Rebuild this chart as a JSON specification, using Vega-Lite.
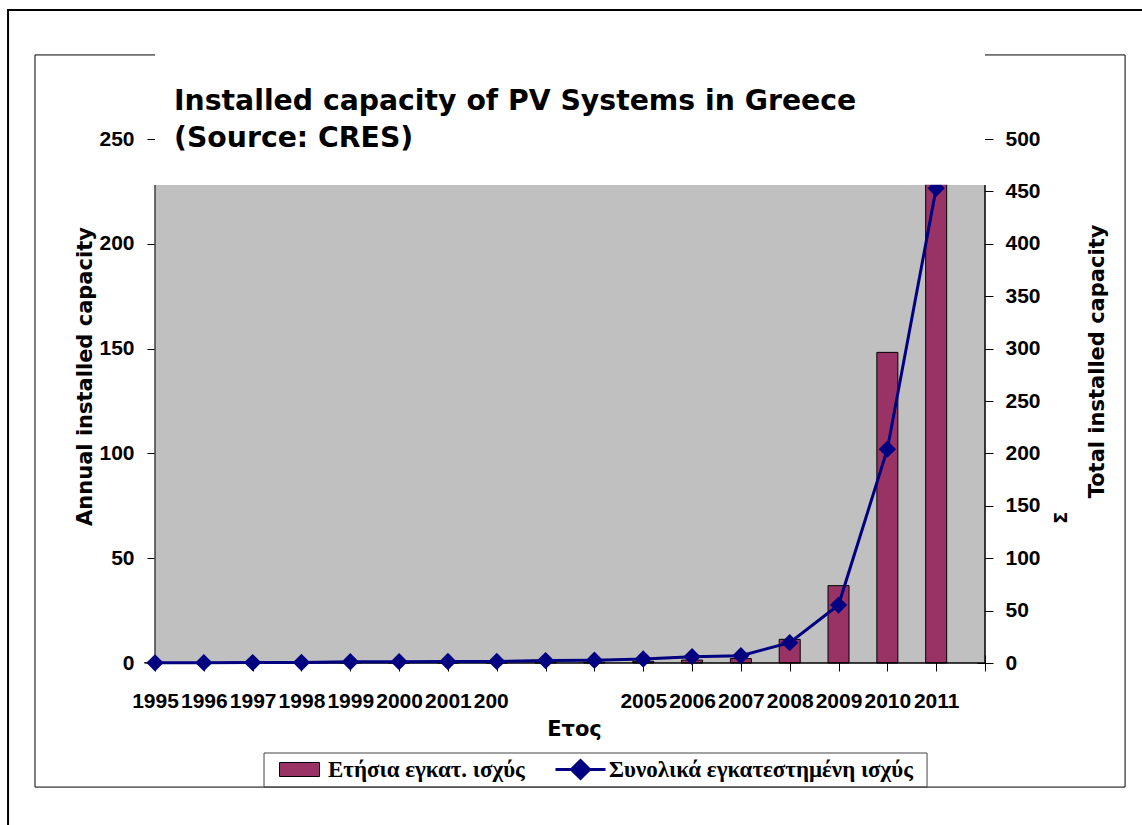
{
  "$schema": "https://vega.github.io/schema/vega-lite/v6.json",
  "width": 830,
  "height": 524,
  "autosize": {"type": "none"},
  "padding": {"left": 155, "top": 139, "right": 157, "bottom": 162},
  "background": "white",
  "config": {
    "view": {"stroke": null},
    "scale": {"continuousPadding": 0},
    "axis": {
      "labelFont": "Liberation Sans", "labelFontWeight": "bold", "labelFontSize": 21, "labelColor": "#000",
      "titleFont": "DejaVu Sans", "titleFontWeight": "bold", "titleFontSize": 21, "titleColor": "#000",
      "domain": false, "tickColor": "#000", "tickSize": 16, "offset": -8, "grid": false, "zindex": 1
    },
    "legend": {
      "orient": "none", "direction": "horizontal", "title": null, "padding": 0,
      "symbolSize": 400, "labelOffset": 17,
      "labelFont": "Liberation Serif", "labelFontWeight": "bold", "labelFontSize": 23, "labelColor": "#000",
      "labelLimit": 600
    }
  },
  "datasets": {
    "pv": [
      {"year": 1995, "annual": 0.1, "total": 0.2},
      {"year": 1996, "annual": 0.1, "total": 0.3},
      {"year": 1997, "annual": 0.1, "total": 0.4},
      {"year": 1998, "annual": 0.1, "total": 0.5},
      {"year": 1999, "annual": 0.2, "total": 1.2},
      {"year": 2000, "annual": 0.1, "total": 1.3},
      {"year": 2001, "annual": 0.1, "total": 1.4},
      {"year": 2002, "annual": 0.1, "total": 1.5},
      {"year": 2003, "annual": 0.6, "total": 2.3},
      {"year": 2004, "annual": 0.4, "total": 2.6},
      {"year": 2005, "annual": 0.8, "total": 3.8},
      {"year": 2006, "annual": 1.4, "total": 6.0},
      {"year": 2007, "annual": 2.1, "total": 7.0},
      {"year": 2008, "annual": 11.3, "total": 19.4},
      {"year": 2009, "annual": 36.9, "total": 55.3},
      {"year": 2010, "annual": 148.2, "total": 204},
      {"year": 2011, "annual": 250, "total": 453}
    ],
    "one": [{}]
  },
  "layer": [
    {
      "layer": [
        {
          "data": {"name": "one"},
          "mark": {"type": "rect", "fill": "#C0C0C0"},
          "encoding": {
            "x": {"datum": 1995, "type": "quantitative", "scale": {"domain": [1995, 2012], "nice": false, "zero": false, "padding": 0}},
            "x2": {"datum": 2012},
            "y": {"datum": 0, "type": "quantitative", "scale": {"domain": [0, 250], "nice": false}},
            "y2": {"datum": 228}
          }
        },
        {
          "data": {"name": "pv"},
          "mark": {"type": "bar", "size": 21, "stroke": "#000", "strokeWidth": 1},
          "encoding": {
            "x": {
              "field": "year", "type": "quantitative",
              "scale": {"domain": [1995, 2012], "nice": false, "zero": false, "padding": 0},
              "axis": {
                "values": [1995, 1996, 1997, 1998, 1999, 2000, 2001, 2002, 2003, 2004, 2005, 2006, 2007, 2008, 2009, 2010, 2011, 2012],
                "labelExpr": "datum.value == 2003 || datum.value == 2004 || datum.value == 2012 ? '' : (datum.value == 2002 ? '200' : toString(datum.value))",
                "labelOffset": {"condition": {"test": "datum.value == 2002", "value": -6}, "value": 0},
                "labelOverlap": false, "labelFlush": false, "labelBaseline": "alphabetic", "labelPadding": 36,
                "title": "Ετος", "titleX": 419, "titleY": 80, "titleBaseline": "alphabetic", "titleAlign": "center"
              }
            },
            "y": {
              "field": "annual", "type": "quantitative",
              "scale": {"domain": [0, 250], "nice": false},
              "axis": {
                "values": [0, 50, 100, 150, 200, 250],
                "labelPadding": 13,
                "title": "Annual installed capacity", "titleAngle": -90, "titleX": -78, "titleY": 237,
                "titleAlign": "center", "titleBaseline": "middle"
              }
            },
            "fill": {
              "datum": "Ετήσια εγκατ. ισχύς", "type": "nominal",
              "scale": {"range": ["#993366"]},
              "legend": {
                "legendX": 133, "legendY": 619,
                "symbolType": "M-2,-0.7L2,-0.7L2,0.7L-2,0.7Z",
                "symbolStrokeColor": "#000", "symbolStrokeWidth": 1, "symbolOpacity": 1
              }
            }
          }
        },
        {
          "data": {"name": "one"},
          "mark": {"type": "rule", "color": "#404040", "strokeWidth": 1.5},
          "encoding": {
            "x": {"datum": 1995, "type": "quantitative", "scale": {"domain": [1995, 2012], "nice": false, "zero": false, "padding": 0}},
            "y": {"datum": 0, "type": "quantitative", "scale": {"domain": [0, 250], "nice": false}},
            "y2": {"datum": 228}
          }
        },
        {
          "data": {"name": "one"},
          "mark": {"type": "rule", "color": "#000", "strokeWidth": 1.5},
          "encoding": {
            "x": {"datum": 2012, "type": "quantitative", "scale": {"domain": [1995, 2012], "nice": false, "zero": false, "padding": 0}},
            "y": {"datum": 0, "type": "quantitative", "scale": {"domain": [0, 250], "nice": false}},
            "y2": {"datum": 228}
          }
        },
        {
          "data": {"name": "one"},
          "mark": {"type": "rule", "color": "#000", "strokeWidth": 1.5},
          "encoding": {
            "x": {"datum": 1995, "type": "quantitative", "scale": {"domain": [1995, 2012], "nice": false, "zero": false, "padding": 0}},
            "x2": {"datum": 2012},
            "y": {"datum": 0, "type": "quantitative", "scale": {"domain": [0, 250], "nice": false}}
          }
        }
      ]
    },
    {
      "data": {"name": "pv"},
      "layer": [
        {
          "mark": {"type": "line", "strokeWidth": 3},
          "encoding": {
            "x": {"field": "year", "type": "quantitative", "scale": {"domain": [1995, 2012], "nice": false, "zero": false, "padding": 0}},
            "y": {
              "field": "total", "type": "quantitative",
              "scale": {"domain": [0, 500], "nice": false},
              "axis": {
                "orient": "right",
                "values": [0, 50, 100, 150, 200, 250, 300, 350, 400, 450, 500],
                "labelPadding": 12, "labelAlign": "left",
                "title": "Total installed capacity", "titleAngle": -90, "titleX": 120, "titleY": 222,
                "titleAlign": "center", "titleBaseline": "middle"
              }
            },
            "stroke": {
              "datum": "Συνολικά εγκατεστημένη ισχύς", "type": "nominal",
              "scale": {"range": ["#000080"]},
              "legend": {
                "legendX": 414, "legendY": 619,
                "symbolType": "M-2.5,0L2.5,0M0,-0.9L0.9,0L0,0.9L-0.9,0Z",
                "symbolStrokeWidth": 3, "symbolFillColor": "#000080", "symbolOpacity": 1
              }
            }
          }
        },
        {
          "mark": {"type": "point", "shape": "diamond", "size": 300, "filled": true, "color": "#000080", "opacity": 1},
          "encoding": {
            "x": {"field": "year", "type": "quantitative", "scale": {"domain": [1995, 2012], "nice": false, "zero": false, "padding": 0}},
            "y": {"field": "total", "type": "quantitative", "scale": {"domain": [0, 500], "nice": false}}
          }
        }
      ]
    },
    {
      "data": {"name": "one"},
      "layer": [
        {
          "mark": {"type": "rect", "fill": null, "stroke": "#000", "strokeWidth": 1},
          "encoding": {
            "x": {"datum": 1992.542, "type": "quantitative", "scale": {"domain": [1995, 2012], "nice": false, "zero": false, "padding": 0}},
            "x2": {"datum": 2014.869},
            "y": {"datum": 290.1, "type": "quantitative", "scale": {"domain": [0, 250], "nice": false}, "axis": null},
            "y2": {"datum": -59.2}
          }
        },
        {
          "mark": {"type": "rect", "fill": null, "stroke": "#000", "strokeWidth": 2},
          "encoding": {
            "x": {"datum": 1991.99, "type": "quantitative", "scale": {"domain": [1995, 2012], "nice": false, "zero": false, "padding": 0}},
            "x2": {"datum": 2030},
            "y": {"datum": 311.5, "type": "quantitative", "scale": {"domain": [0, 250], "nice": false}, "axis": null},
            "y2": {"datum": -200}
          }
        },
        {
          "mark": {"type": "rect", "fill": "#ffffff"},
          "encoding": {
            "x": {"datum": 1995, "type": "quantitative", "scale": {"domain": [1995, 2012], "nice": false, "zero": false, "padding": 0}},
            "x2": {"datum": 2012},
            "y": {"datum": 228.2, "type": "quantitative", "scale": {"domain": [0, 250], "nice": false}, "axis": null},
            "y2": {"datum": 300}
          }
        },
        {
          "mark": {"type": "rect", "fill": null, "stroke": "#444", "strokeWidth": 1},
          "encoding": {
            "x": {"datum": 1997.233, "type": "quantitative", "scale": {"domain": [1995, 2012], "nice": false, "zero": false, "padding": 0}},
            "x2": {"datum": 2010.813},
            "y": {"datum": -42.94, "type": "quantitative", "scale": {"domain": [0, 250], "nice": false}, "axis": null},
            "y2": {"datum": -59.2}
          }
        },
        {
          "mark": {
            "type": "text", "text": ["Installed capacity of PV Systems in Greece", "(Source: CRES)"],
            "align": "left", "baseline": "alphabetic", "font": "DejaVu Sans", "fontWeight": "bold",
            "fontSize": 28.3, "lineHeight": 37, "color": "#000"
          },
          "encoding": {
            "x": {"datum": 1995.39, "type": "quantitative", "scale": {"domain": [1995, 2012], "nice": false, "zero": false, "padding": 0}},
            "y": {"datum": 263.8, "type": "quantitative", "scale": {"domain": [0, 250], "nice": false}, "axis": null}
          }
        },
        {
          "mark": {"type": "text", "text": "Σ", "angle": 270, "font": "DejaVu Sans", "fontWeight": "bold", "fontSize": 18, "color": "#000"},
          "encoding": {
            "x": {"datum": 2013.58, "type": "quantitative", "scale": {"domain": [1995, 2012], "nice": false, "zero": false, "padding": 0}},
            "y": {"datum": 69.2, "type": "quantitative", "scale": {"domain": [0, 250], "nice": false}, "axis": null}
          }
        }
      ]
    }
  ],
  "resolve": {"scale": {"y": "independent"}}
}
